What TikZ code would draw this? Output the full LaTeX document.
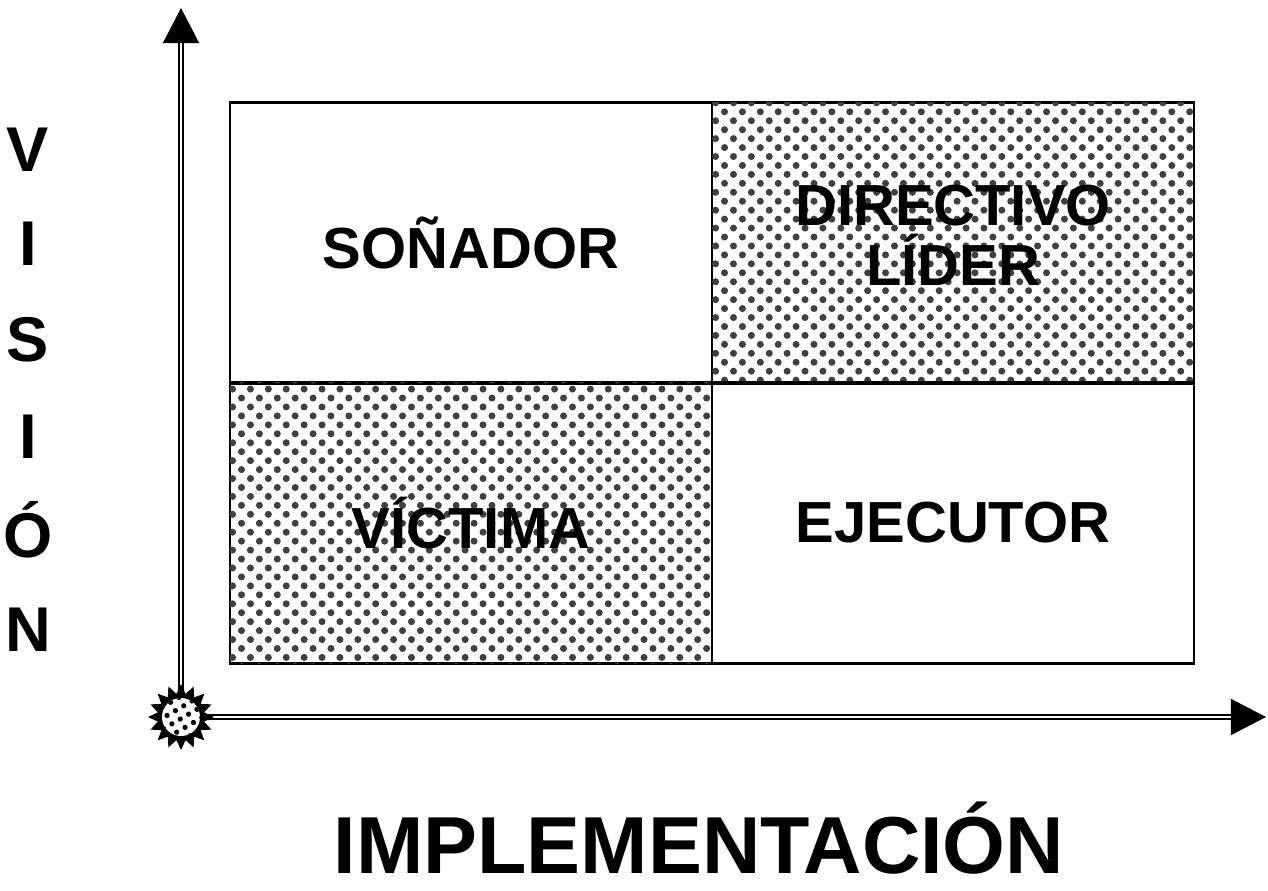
\documentclass[tikz,border=0pt]{standalone}
\usepackage{fontspec}
\setmainfont{Liberation Sans}
\usetikzlibrary{arrows.meta,shapes.geometric,patterns.meta}

\tikzset{
  cell/.style={draw,line width=1.6pt,minimum width=482\xu,minimum height=281\xu,
    inner sep=0pt,font=\fontsize{33}{34}\bfseries},
  dotted cell/.style={cell,postaction={pattern={Dots[angle=45,distance=7.2pt,radius=2pt]},
    pattern color=black!75}},
  axis/.style={line width=1.1pt,double,double distance=1.6pt},
  axis tip/.style={-{Triangle[length=20pt,width=20.5pt]}},
  vletter/.style={font=\fontsize{36}{40}\bfseries}
}
\newlength{\xu}
\setlength{\xu}{0.02cm}

\begin{document}
\begin{tikzpicture}[x=0.02cm,y=-0.02cm]
  \useasboundingbox (0,0) rectangle (1268,890);
  % quadrants
  \node[cell] (dreamer) at (471,243) {SOÑADOR};
  \node[dotted cell] (leader) at (953,243) {};
  \node[font=\fontsize{33}{34}\bfseries,align=center] (leadertext) at ([yshift=8\xu]leader.center) {DIRECTIVO\\LÍDER};
  \node[dotted cell] (victim) at (471,523) {};
  \node[font=\fontsize{33}{34}\bfseries] (victimtext) at (victim.center) {VÍCTIMA};
  \node[cell] (doer) at (953,523) {EJECUTOR};
  % axes
  \coordinate (origin) at (181,717);
  \coordinate (ytop) at (181,8);
  \coordinate (xright) at (1266,717);
  \draw[axis,axis tip] (origin) -- (ytop);
  \draw[axis,axis tip] (origin) -- (xright);
  \node[star,star points=16,star point ratio=1.4,fill=black,minimum size=66\xu,inner sep=0pt] (burst) at (origin) {};
  \node[circle,fill=white,minimum size=38\xu,inner sep=0pt,
    postaction={pattern={Dots[angle=30,distance=5.5pt,radius=1.5pt]}}] (burstin) at (origin) {};
  % labels
  \node[vletter] (v1) at (28,150) {V};
  \node[vletter] (v2) at (28,244) {I};
  \node[vletter] (v3) at (28,340) {S};
  \node[vletter] (v4) at (28,437) {I};
  \node[vletter] (v5) at (28,530) {Ó};
  \node[vletter] (v6) at (28,630) {N};
  \node[font=\fontsize{46}{50}\bfseries] (impl) at (699,838) {IMPLEMENTACIÓN};
\end{tikzpicture}
\end{document}
